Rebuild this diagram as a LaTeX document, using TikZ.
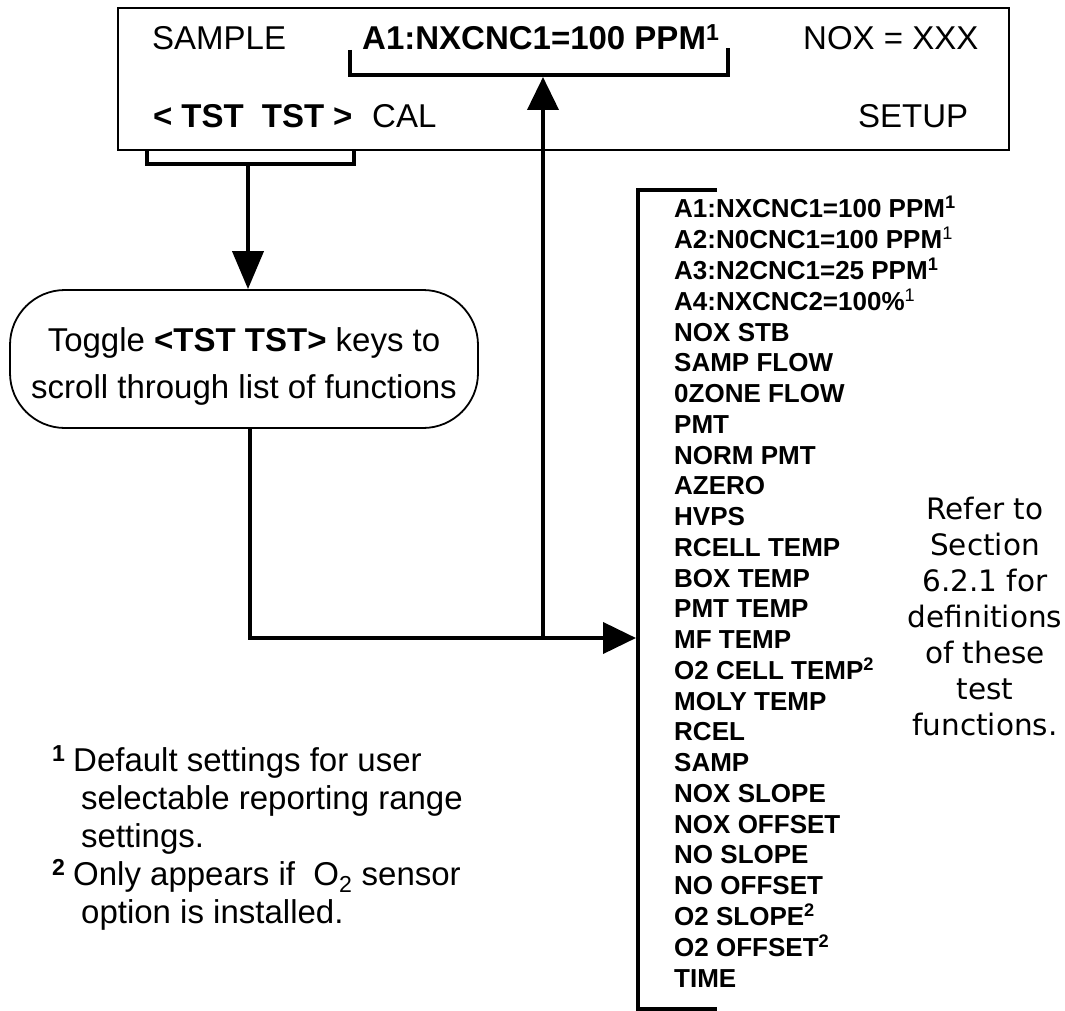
\documentclass[tikz,border=0pt]{standalone}
\usepackage{fontspec}
\setmainfont{Liberation Sans}
\newfontfamily\verdfont{DejaVu Sans}
\usetikzlibrary{arrows.meta}
\begin{document}
\begin{tikzpicture}[x=1pt,y=-1pt,
  txt/.style={inner sep=0pt, anchor=base west, font=\fontsize{33}{38}\selectfont},
  lst/.style={inner sep=0pt, anchor=base west, font=\fontsize{26}{30}\selectfont\bfseries},
  side/.style={inner sep=0pt, anchor=base, font=\verdfont\fontsize{29.5}{36}\selectfont},
  brk/.style={line width=4pt},
  arr/.style={line width=4pt, -{Triangle[length=33pt,width=31pt]}},
  arrlong/.style={line width=4pt, -{Triangle[length=38pt,width=31pt]}},
  disp/.style={draw, line width=1.6pt, minimum width=891pt, minimum height=142pt, inner sep=0pt},
  pill/.style={draw, line width=1.8pt, minimum width=468pt, minimum height=138pt, rounded corners=55pt, inner sep=0pt},
]
\fill[white] (0,0) rectangle (1065,1011);
\useasboundingbox (0,0) rectangle (1065,1011);

% display box
\node[disp] (display) at (563.5,79) {};
\node[txt] (sample) at (152,50) {SAMPLE};
\node[txt] (a1) at (362,50) {\bfseries A1:NXCNC1=100 PPM\textsuperscript{1}};
\node[txt] (nox) at (803,50) {NOX = XXX};
\node[txt] (tst) at (153,128) {\bfseries <\hspace{0.27em}TST\hspace{0.55em}TST\hspace{0.27em}>};
\node[txt] (cal) at (372,128) {CAL};
\node[txt] (setup) at (858,128) {SETUP};

% brackets
\draw[brk] (350,50) -- (350,75) -- (728,75) -- (728,48);
\coordinate (a1b) at (543,77);
\draw[brk] (147,150) -- (147,164) -- (354,164) -- (354,150);
\coordinate (tstb) at (248,164);

% toggle box
\node[pill] (toggle) at (244,359) {};
\node[inner sep=0pt, align=center, font=\fontsize{33}{47}\selectfont] (toggletxt) at (244,366)
  {Toggle \textbf{<TST TST>} keys to\\scroll through list of functions};

% list bracket
\draw[line width=4.5pt] (717,190) -- (638,190) -- (638,1009) -- (717,1009);
\coordinate (lstin) at (636,638);
\coordinate (junc) at (543,638);

% connectors
\draw[arrlong] (tstb) -- (tstb |- toggle.north);
\draw[arr] ([xshift=6pt]toggle.south) |- (lstin);
\draw[arr] (junc) -- (a1b);

% list items
\foreach \t [count=\i from 0] in {
  {A1:NXCNC1=100 PPM\textsuperscript{1}},
  {A2:N0CNC1=100 PPM\textsuperscript{\mdseries 1}},
  {A3:N2CNC1=25 PPM\textsuperscript{1}},
  {A4:NXCNC2=100\%\textsuperscript{\mdseries 1}},
  {NOX STB},{SAMP FLOW},{0ZONE FLOW},{PMT},{NORM PMT},{AZERO},{HVPS},
  {RCELL TEMP},{BOX TEMP},{PMT TEMP},{MF TEMP},
  {O2 CELL TEMP\textsuperscript{2}},
  {MOLY TEMP},{RCEL},{SAMP},{NOX SLOPE},{NOX OFFSET},{NO SLOPE},{NO OFFSET},
  {O2 SLOPE\textsuperscript{2}},{O2 OFFSET\textsuperscript{2}},{TIME}}
  \node[lst] (item\i) at (674,218+\i*30.76) {\t};

% side note
\foreach \t [count=\i from 0] in {Refer to,Section,6.2.1 for,definitions,of these,test,functions.}
  \node[side] (note\i) at (985,519+\i*36) {\t};

% footnotes
\node[txt] (fn1m) at (52,771) {\textsuperscript{\bfseries 1}};
\node[txt] (fn1a) at (73,771) {Default settings for user};
\node[txt] (fn1b) at (81,809) {selectable reporting range};
\node[txt] (fn1c) at (81,847) {settings.};
\node[txt] (fn2m) at (52,885) {\textsuperscript{\bfseries 2}};
\node[txt] (fn2a) at (73,885) {Only appears if \ O\textsubscript{2} sensor};
\node[txt] (fn2b) at (81,923) {option is installed.};
\end{tikzpicture}
\end{document}
